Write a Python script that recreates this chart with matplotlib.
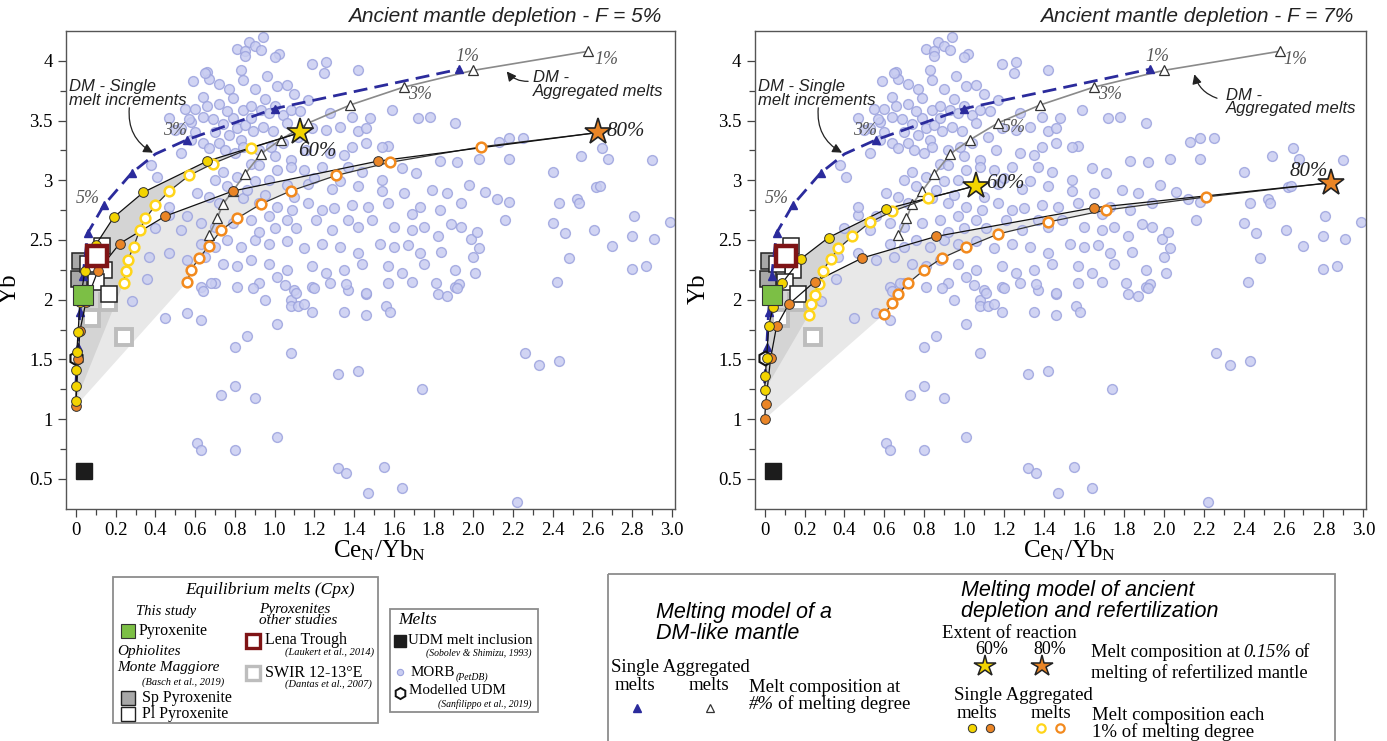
import matplotlib
matplotlib.use('Agg')
import matplotlib.pyplot as plt
import numpy as np
from matplotlib.patches import Rectangle

plt.rcParams['font.family'] = ['Liberation Serif', 'DejaVu Serif']
plt.rcParams['mathtext.fontset'] = 'custom'
plt.rcParams['mathtext.rm'] = 'Liberation Serif'
plt.rcParams['mathtext.it'] = 'Liberation Serif:italic'

# ---- MORB (PetDB) compilation, Ce_N/Yb_N vs Yb ----
morb_x = [0.94, 0.87, 0.81, 0.85, 0.90, 0.93, 1.02, 1.00, 0.85, 1.19,
          1.26, 1.42, 1.25, 0.59, 0.66, 0.67, 0.72, 0.77, 0.84, 0.90,
          0.96, 1.01, 1.06, 1.10, 1.17, 0.64, 0.72, 0.79, 0.84, 0.88,
          0.93, 0.97, 1.00, 1.04, 1.08, 1.13, 1.28, 1.39, 1.48, 1.59,
          1.72, 1.78, 1.91, 0.47, 0.53, 0.58, 0.64, 0.69, 0.74, 0.79,
          0.81, 0.85, 0.89, 0.94, 0.99, 1.06, 1.19, 1.26, 1.33, 1.42,
          1.46, 1.57, 0.53, 0.58, 0.64, 0.67, 0.72, 0.75, 0.80, 0.83,
          0.84, 0.92, 0.98, 1.04, 1.00, 1.08, 1.28, 1.35, 1.39, 1.46,
          1.54, 2.13, 2.18, 2.25, 2.54, 2.65, 2.68, 2.90, 2.40, 2.62,
          2.64, 1.71, 1.83, 1.92, 2.03, 2.18, 0.88, 0.92, 1.01, 1.08,
          1.15, 1.24, 1.37, 1.44, 1.54, 1.64, 0.74, 0.81, 0.90, 0.97,
          1.06, 1.17, 1.29, 1.33, 1.42, 1.54, 1.65, 1.79, 1.87, 1.98,
          2.06, 2.12, 2.18, 0.61, 0.67, 0.72, 0.84, 0.92, 1.01, 1.09,
          1.17, 1.24, 1.30, 1.39, 1.47, 1.57, 1.69, 1.73, 1.83, 1.94,
          2.43, 2.52, 2.53, 2.81, 2.99, 0.56, 0.63, 0.70, 0.79, 0.88,
          0.97, 1.06, 1.11, 1.21, 1.29, 1.37, 1.42, 1.49, 1.60, 1.69,
          1.75, 1.82, 1.89, 1.94, 1.99, 2.02, 2.16, 2.40, 2.46, 2.61,
          2.80, 2.91, 2.70, 2.48, 2.80, 2.87, 2.42, 0.63, 0.70, 0.76,
          0.83, 0.90, 0.97, 1.06, 1.15, 1.24, 1.33, 1.42, 1.53, 1.60,
          1.67, 1.73, 1.84, 2.00, 2.03, 0.47, 0.56, 0.65, 0.74, 0.81,
          0.88, 0.97, 1.06, 1.19, 1.26, 1.35, 1.44, 1.57, 1.64, 1.75,
          1.91, 2.01, 0.36, 0.63, 0.70, 0.81, 0.92, 1.01, 1.10, 1.19,
          1.28, 1.37, 1.46, 1.57, 1.69, 1.82, 1.91, 1.93, 0.28, 0.45,
          0.56, 0.64, 0.63, 0.68, 0.89, 0.95, 1.01, 1.05, 1.08, 1.08,
          1.11, 1.12, 1.15, 1.19, 1.20, 1.35, 1.36, 1.46, 1.46, 1.56,
          1.58, 1.81, 1.87, 1.92, 0.86, 0.80, 1.08, 1.32, 1.42, 2.26,
          2.33, 2.43, 0.80, 0.73, 0.90, 1.74, 0.61, 0.63, 0.80, 1.01,
          1.32, 1.36, 1.55, 1.47, 1.64, 2.22, 0.40, 0.47, 0.47, 0.53,
          0.37, 0.83, 0.55, 0.60, 0.70, 0.76, 0.86, 0.95, 1.00, 0.92,
          0.70, 0.77, 0.88, 0.95, 0.66, 0.76, 1.12, 1.16, 1.20, 1.10,
          0.65, 0.60, 0.57, 0.50, 0.38, 0.41]
morb_y = [4.20, 4.16, 4.10, 4.08, 4.12, 4.09, 4.06, 4.03, 4.04, 3.97,
          3.99, 3.92, 3.90, 3.83, 3.91, 3.85, 3.81, 3.76, 3.84, 3.76,
          3.87, 3.79, 3.80, 3.72, 3.67, 3.70, 3.64, 3.69, 3.59, 3.62,
          3.59, 3.56, 3.62, 3.55, 3.59, 3.58, 3.56, 3.53, 3.52, 3.59,
          3.52, 3.53, 3.48, 3.52, 3.44, 3.49, 3.53, 3.51, 3.47, 3.52,
          3.44, 3.46, 3.41, 3.45, 3.41, 3.48, 3.44, 3.42, 3.45, 3.41,
          3.44, 3.29, 3.23, 3.34, 3.31, 3.27, 3.31, 3.25, 3.23, 3.34,
          3.28, 3.25, 3.28, 3.31, 3.20, 3.17, 3.23, 3.21, 3.28, 3.31,
          3.28, 3.32, 3.35, 3.35, 3.20, 3.27, 3.18, 3.17, 3.07, 2.94,
          2.95, 3.06, 3.16, 3.15, 3.18, 3.18, 3.14, 3.13, 3.09, 3.11,
          3.09, 3.11, 3.11, 3.07, 3.00, 3.10, 3.07, 3.03, 2.99, 3.00,
          2.96, 2.97, 2.93, 2.99, 2.95, 2.91, 2.89, 2.92, 2.89, 2.96,
          2.90, 2.84, 2.82, 2.89, 2.86, 2.81, 2.85, 2.81, 2.78, 2.75,
          2.81, 2.75, 2.77, 2.79, 2.78, 2.81, 2.72, 2.78, 2.75, 2.81,
          2.81, 2.84, 2.81, 2.70, 2.65, 2.70, 2.64, 2.61, 2.64, 2.67,
          2.70, 2.67, 2.60, 2.67, 2.58, 2.67, 2.61, 2.67, 2.61, 2.58,
          2.61, 2.53, 2.63, 2.61, 2.51, 2.57, 2.67, 2.64, 2.56, 2.58,
          2.53, 2.51, 2.45, 2.35, 2.26, 2.28, 2.15, 2.47, 2.44, 2.50,
          2.44, 2.50, 2.47, 2.49, 2.43, 2.47, 2.44, 2.39, 2.47, 2.44,
          2.46, 2.39, 2.40, 2.36, 2.43, 2.39, 2.33, 2.36, 2.30, 2.28,
          2.33, 2.30, 2.25, 2.28, 2.22, 2.25, 2.30, 2.28, 2.22, 2.30,
          2.25, 2.22, 2.17, 2.11, 2.14, 2.11, 2.14, 2.19, 2.08, 2.11,
          2.14, 2.08, 2.05, 2.14, 2.15, 2.05, 2.11, 2.13, 1.99, 1.85,
          1.89, 2.07, 1.83, 2.14, 2.10, 2.00, 1.80, 2.12, 2.00, 1.95,
          2.06, 1.95, 1.96, 1.90, 2.10, 1.90, 2.13, 2.06, 1.87, 1.95,
          1.90, 2.14, 2.03, 2.10, 1.70, 1.60, 1.55, 1.38, 1.40, 1.55,
          1.45, 1.49, 1.28, 1.20, 1.18, 1.25, 0.80, 0.74, 0.74, 0.85,
          0.59, 0.55, 0.60, 0.38, 0.42, 0.31, 2.60, 2.71, 2.78, 2.58,
          2.36, 3.92, 3.60, 3.40, 3.00, 2.95, 2.92, 2.88, 2.60, 2.57,
          3.40, 3.38, 3.52, 3.68, 3.62, 3.58, 3.36, 3.25, 3.02, 2.86,
          3.90, 3.60, 3.51, 3.42, 3.13, 3.03]

# ---- DM-like mantle melting model (same in both panels) ----
dm_single_x = [0.0, 0.01, 0.02, 0.035, 0.06, 0.14, 0.28, 0.40, 0.56, 1.00, 1.93]
dm_single_y = [1.30, 1.60, 1.90, 2.20, 2.56, 2.79, 3.06, 3.22, 3.34, 3.60, 3.93]
dm_single_mark = [1, 2, 3, 4, 5, 6, 8, 9, 10]
dm_agg_x = [2.58, 2.00, 1.65, 1.38, 1.17, 1.03, 0.93, 0.85, 0.79, 0.74, 0.71, 0.67]
dm_agg_y = [4.08, 3.92, 3.78, 3.63, 3.48, 3.34, 3.22, 3.05, 2.91, 2.80, 2.68, 2.54]

# ---- equilibrium melts (Cpx) and melts ----
pyx_x, pyx_y = [0.036], [2.04]
lena_x, lena_y = [0.105], [2.37]
sp_x, sp_y = [0.02, 0.015], [2.32, 2.17]
pl_x = [0.13, 0.14, 0.10, 0.165, 0.06]
pl_y = [2.45, 2.25, 2.15, 2.05, 2.30]
swir_x, swir_y = [0.075, 0.16, 0.24], [1.85, 1.98, 1.69]
udm_x, udm_y = [0.04], [0.567]
mudm_x, mudm_y = [0.0], [1.51]

# ---- ancient depletion + refertilization, F = 5% ----
f5_y60s_x = [1.13, 0.66, 0.34, 0.19, 0.10, 0.045, 0.02, 0.011, 0.004, 0.002, 0.001, 0.0]
f5_y60s_y = [3.40, 3.16, 2.90, 2.69, 2.46, 2.24, 1.98, 1.73, 1.56, 1.41, 1.28, 1.15]
f5_y60a_x = [1.13, 0.88, 0.69, 0.57, 0.47, 0.40, 0.35, 0.32, 0.29, 0.26, 0.25, 0.24]
f5_y60a_y = [3.40, 3.27, 3.14, 3.04, 2.91, 2.79, 2.68, 2.58, 2.44, 2.33, 2.24, 2.14]
f5_o80s_x = [2.63, 1.52, 0.79, 0.45, 0.22, 0.11, 0.05, 0.02, 0.01, 0.0]
f5_o80s_y = [3.40, 3.16, 2.91, 2.70, 2.47, 2.24, 1.98, 1.74, 1.50, 1.11]
f5_o80a_x = [2.63, 2.04, 1.58, 1.31, 1.08, 0.93, 0.81, 0.73, 0.67, 0.62, 0.58, 0.56]
f5_o80a_y = [3.40, 3.28, 3.15, 3.04, 2.91, 2.80, 2.68, 2.58, 2.45, 2.35, 2.25, 2.15]

# ---- ancient depletion + refertilization, F = 7% ----
f7_y60s_x = [1.06, 0.61, 0.32, 0.18, 0.088, 0.043, 0.02, 0.01, 0.003, 0.0]
f7_y60s_y = [2.955, 2.76, 2.52, 2.34, 2.14, 1.94, 1.78, 1.51, 1.36, 1.24]
f7_y60a_x = [1.06, 0.82, 0.64, 0.53, 0.44, 0.37, 0.33, 0.29, 0.27, 0.25, 0.23, 0.22]
f7_y60a_y = [2.955, 2.85, 2.74, 2.65, 2.53, 2.43, 2.34, 2.24, 2.13, 2.04, 1.96, 1.87]
f7_o80s_x = [2.84, 1.65, 0.86, 0.49, 0.25, 0.12, 0.06, 0.03, 0.005, 0.0]
f7_o80s_y = [2.98, 2.77, 2.53, 2.35, 2.15, 1.96, 1.78, 1.51, 1.13, 1.00]
f7_o80a_x = [2.84, 2.21, 1.71, 1.42, 1.17, 1.01, 0.89, 0.80, 0.72, 0.67, 0.64, 0.60]
f7_o80a_y = [2.98, 2.86, 2.75, 2.65, 2.55, 2.44, 2.35, 2.25, 2.14, 2.05, 1.97, 1.88]

x_ticks = [0.0, 0.2, 0.4, 0.6, 0.8, 1.0, 1.2, 1.4, 1.6, 1.8, 2.0, 2.2, 2.4, 2.6, 2.8, 3.0]
x_tick_labels = ['0', '0.2', '0.4', '0.6', '0.8', '1.0', '1.2', '1.4', '1.6', '1.8',
                 '2.0', '2.2', '2.4', '2.6', '2.8', '3.0']
y_ticks = [0.5, 1.0, 1.5, 2.0, 2.5, 3.0, 3.5, 4.0]
y_tick_labels = ['0.5', '1', '1.5', '2', '2.5', '3', '3.5', '4']

BLUE = '#2b2b9c'
YEL = '#f3d400'
ORA = '#ea8526'
YEL_O = '#ffd51a'
ORA_O = '#f28a1e'
SANS = ['Liberation Sans', 'DejaVu Sans']


def draw_panel(ax, title, y60s, y60a, o80s, o80a, pct, stars_lab, agg_txt, agg_arr):
    # shaded fields between single and aggregated melts
    ax.fill(o80s[0] + o80a[0][::-1], o80s[1] + o80a[1][::-1], color='#e8e8e8', lw=0, zorder=1)
    ax.fill(y60s[0] + y60a[0][::-1], y60s[1] + y60a[1][::-1], color='#d4d4d4', lw=0, zorder=1.1)

    ax.scatter(morb_x, morb_y, s=50, facecolor='#c9cdf1', edgecolor='#9ca3de',
               linewidth=1.0, alpha=0.85, zorder=2)

    # equilibrium melts
    ax.plot(swir_x, swir_y, 's', ms=12, mfc='white', mec='#bdbdbd', mew=2.8, zorder=3)
    ax.plot(sp_x, sp_y, 's', ms=12, mfc='#a8a8a8', mec='#222', mew=1.1, zorder=3)
    ax.plot(pl_x, pl_y, 's', ms=12, mfc='white', mec='#222', mew=1.1, zorder=3)
    ax.plot(udm_x, udm_y, 's', ms=11, mfc='#1c1c1c', mec='#1c1c1c', zorder=3)

    # DM model
    ax.plot(dm_agg_x, dm_agg_y, '-', color='#8a8a8a', lw=1.2, zorder=4)
    ax.plot(dm_agg_x, dm_agg_y, '^', ms=7, mfc='white', mec='#333', mew=0.9, zorder=4.1)
    ax.plot(dm_single_x, dm_single_y, color=BLUE, lw=2, ls=(0, (5, 2.6)), zorder=4.2)
    ax.plot([dm_single_x[i] for i in dm_single_mark], [dm_single_y[i] for i in dm_single_mark],
            '^', ms=6, color=BLUE, zorder=4.3)

    # refertilization models
    for (sx, sy), (ax_, ay), fc, oc in [(o80s, o80a, ORA, ORA_O), (y60s, y60a, YEL, YEL_O)]:
        ax.plot(ax_, ay, '-', color='#333', lw=0.9, zorder=5)
        ax.plot(sx, sy, '-', color='#111', lw=0.9, zorder=5)
        ax.plot(ax_[1:], ay[1:], 'o', ms=7, mfc='white', mec=oc, mew=1.8, zorder=5.2)
        ax.plot(sx[1:], sy[1:], 'o', ms=7, mfc=fc, mec='#333', mew=0.7, zorder=5.3)

    ax.plot(mudm_x, mudm_y, 'h', ms=10, mfc='white', mec='#111', mew=1.5, zorder=5.1)
    ax.plot(pyx_x, pyx_y, 's', ms=14, mfc='#7cbf45', mec='#333', mew=0.8, zorder=6)
    ax.plot(lena_x, lena_y, 's', ms=14, mfc='white', mec='#7f1416', mew=3.2, zorder=6)

    ax.plot([y60s[0][0]], [y60s[1][0]], '*', ms=20, mfc=YEL, mec='#222', mew=1.2, zorder=7)
    ax.plot([o80s[0][0]], [o80s[1][0]], '*', ms=20, mfc=ORA, mec='#222', mew=1.2, zorder=7)

    for (tx, ty, t) in pct:
        ax.text(tx, ty, t, fontsize=13, style='italic', color='#555', ha='left', va='center', zorder=8)
    for (tx, ty, t) in stars_lab:
        ax.text(tx, ty, t, fontsize=15, style='italic', color='#222', ha='left', va='center', zorder=8)

    ax.text(-0.035, 3.725, 'DM - Single\nmelt increments', family=SANS, style='italic',
            fontsize=12, color='#222', ha='left', va='center', linespacing=0.9, zorder=8)
    ax.annotate('', xy=(0.40, 3.22), xytext=(0.27, 3.63),
                arrowprops=dict(arrowstyle='-|>', color='#222', lw=0.9, mutation_scale=14,
                                connectionstyle='arc3,rad=0.35'), zorder=8)
    ax.text(agg_txt[0], agg_txt[1], 'DM -\nAggregated melts', family=SANS, style='italic',
            fontsize=12, color='#222', ha='left', va='center', linespacing=0.9, zorder=8)
    ax.annotate('', xy=agg_arr[1], xytext=agg_arr[0],
                arrowprops=dict(arrowstyle='-|>', color='#222', lw=0.9, mutation_scale=14,
                                connectionstyle='arc3,rad=-0.3'), zorder=8)

    ax.set_xlim(-0.05, 3.015)
    ax.set_ylim(0.25, 4.25)
    ax.set_xticks(x_ticks)
    ax.set_xticklabels(x_tick_labels)
    ax.set_xticks(np.arange(0.1, 3.0, 0.2), minor=True)
    ax.set_yticks(y_ticks)
    ax.set_yticklabels(y_tick_labels)
    ax.set_yticks([0.75, 1.25, 1.75, 2.25, 2.75, 3.25, 3.75], minor=True)
    ax.tick_params(which='both', direction='out', labelsize=13.5, color='#444', width=0.9)
    ax.tick_params(which='major', length=6)
    ax.tick_params(which='minor', length=4)
    for sp in ax.spines.values():
        sp.set_color('#555')
        sp.set_linewidth(1.0)
    ax.set_xlabel(r'Ce$_{\mathrm{N}}$/Yb$_{\mathrm{N}}$', fontsize=18)
    ax.xaxis.set_label_coords(0.515, -0.062)
    ax.set_ylabel('Yb', fontsize=18)
    ax.yaxis.set_label_coords(-0.074, 0.46)
    ax.text(0.978, 1.03, title, transform=ax.transAxes, family=SANS, style='italic',
            fontsize=15, ha='right', va='center', color='#222')


fig = plt.figure(figsize=(13.87, 7.41), dpi=100)
ax1 = fig.add_axes([0.0476, 0.3135, 0.439, 0.6447])
ax2 = fig.add_axes([0.5441, 0.3135, 0.441, 0.6447])

draw_panel(ax1, 'Ancient mantle depletion - F = 5%',
           (f5_y60s_x, f5_y60s_y), (f5_y60a_x, f5_y60a_y),
           (f5_o80s_x, f5_o80s_y), (f5_o80a_x, f5_o80a_y),
           [(1.91, 4.04, '1%'), (2.61, 4.01, '1%'), (1.67, 3.72, '3%'),
            (0.44, 3.42, '3%'), (0.0, 2.85, '5%')],
           [(1.12, 3.24, '60%'), (2.67, 3.41, '80%')],
           (2.30, 3.80), ((2.29, 3.83), (2.16, 3.93)))
draw_panel(ax2, 'Ancient mantle depletion - F = 7%',
           (f7_y60s_x, f7_y60s_y), (f7_y60a_x, f7_y60a_y),
           (f7_o80s_x, f7_o80s_y), (f7_o80a_x, f7_o80a_y),
           [(1.91, 4.04, '1%'), (2.60, 4.01, '1%'), (1.67, 3.72, '3%'),
            (1.19, 3.44, '5%'), (0.445, 3.42, '3%'), (0.0, 2.85, '5%')],
           [(1.11, 2.97, '60%'), (2.63, 3.07, '80%')],
           (2.31, 3.655), ((2.28, 3.68), (2.15, 3.91)))

# ---- legends (drawn in pixel coordinates) ----
lg = fig.add_axes([0, 0, 1, 1])
lg.set_xlim(0, 1387)
lg.set_ylim(741, 0)
lg.axis('off')
renderer = fig.canvas.get_renderer()


def chain_text(x, y, parts, fs, gap=3.5):
    # write pieces of one line one after another (mixed upright / italic)
    for txt, st, size in parts:
        t = lg.text(x, y, txt, style=st, fontsize=size or fs, va='baseline', ha='left')
        x = t.get_window_extent(renderer).x1 + gap
    return x


lg.add_patch(Rectangle((113, 577), 265, 146, fill=False, ec='#8c8c8c', lw=1.3))
lg.text(270, 590, 'Equilibrium melts (Cpx)', style='italic', fontsize=12.5, ha='center', va='center')
lg.text(136, 611, 'This study', style='italic', fontsize=10.5, va='center')
lg.plot(128, 631, 's', ms=10, mfc='#7cbf45', mec='#333', mew=0.8)
lg.text(139, 631, 'Pyroxenite', fontsize=11.5, va='center')
lg.text(117, 652, 'Ophiolites', style='italic', fontsize=11, va='center')
lg.text(117, 667, 'Monte Maggiore', style='italic', fontsize=11, va='center')
lg.text(142, 682, '(Basch et al., 2019)', style='italic', fontsize=7.5, va='center')
lg.plot(128, 698, 's', ms=10, mfc='#a8a8a8', mec='#222', mew=1.0)
lg.text(142, 698, 'Sp Pyroxenite', fontsize=11.5, va='center')
lg.plot(128, 714, 's', ms=10, mfc='white', mec='#222', mew=1.0)
lg.text(142, 714, 'Pl Pyroxenite', fontsize=11.5, va='center')
lg.text(259, 609, 'Pyroxenites', style='italic', fontsize=11, va='center')
lg.text(259, 621, 'other studies', style='italic', fontsize=11, va='center')
lg.plot(253, 641, 's', ms=10, mfc='white', mec='#7f1416', mew=2.4)
lg.text(265, 640, 'Lena Trough', fontsize=11.5, va='center')
lg.text(374, 652, '(Laukert et al., 2014)', style='italic', fontsize=7.5, ha='right', va='center')
lg.plot(253, 673, 's', ms=10, mfc='white', mec='#bdbdbd', mew=2.4)
lg.text(265, 673, 'SWIR 12-13°E', fontsize=11.5, va='center')
lg.text(372, 684, '(Dantas et al., 2007)', style='italic', fontsize=7.5, ha='right', va='center')

lg.add_patch(Rectangle((390, 609), 148, 103, fill=False, ec='#8c8c8c', lw=1.3))
lg.text(398, 620, 'Melts', style='italic', fontsize=12.5, va='center')
lg.plot(400, 641, 's', ms=9, mfc='#1c1c1c', mec='#1c1c1c')
lg.text(408, 641, 'UDM melt inclusion', fontsize=10.8, va='center')
lg.text(531, 653, '(Sobolev & Shimizu, 1993)', style='italic', fontsize=7, ha='right', va='center')
lg.plot(400, 672, 'o', ms=4.5, mfc='#c9cdf1', mec='#9ca3de', mew=0.8)
x_sub = chain_text(411, 676, [('MORB', 'normal', None)], 10.8, gap=0.5)
lg.text(x_sub, 680, '(PetDB)', style='italic', fontsize=7, va='baseline')
lg.plot(400, 693, 'h', ms=8, mfc='white', mec='#111', mew=1.4)
lg.text(409, 691, 'Modelled UDM', fontsize=10.8, va='center')
lg.text(531, 704, '(Sanfilippo et al., 2019)', style='italic', fontsize=7, ha='right', va='center')

lg.add_patch(Rectangle((608, 574), 727, 190, fill=False, ec='#8c8c8c', lw=1.3))
lg.text(656, 623, 'Melting model of a\nDM-like mantle', family=SANS, style='italic',
        fontsize=15.5, va='center', linespacing=1.0)
lg.text(611, 667, 'Single Aggregated', fontsize=13.5, va='center')
lg.text(615, 686, 'melts', fontsize=13.5, va='center')
lg.text(689, 686, 'melts', fontsize=13.5, va='center')
lg.plot(637, 708, '^', ms=5.5, color=BLUE)
lg.plot(710, 708, '^', ms=6, mfc='white', mec='#333', mew=0.9)
lg.text(749, 688, 'Melt composition at', fontsize=13.5, va='center')
chain_text(749, 709, [('#%', 'italic', None), ('of melting degree', 'normal', None)], 13.5)

lg.text(961, 601, 'Melting model of ancient\ndepletion and refertilization', family=SANS,
        style='italic', fontsize=15.5, va='center', linespacing=1.0)
lg.text(942, 634, 'Extent of reaction', fontsize=13.5, va='center')
lg.text(992, 650, '60%', fontsize=13, ha='center', va='center')
lg.text(1050, 650, '80%', fontsize=13, ha='center', va='center')
lg.plot(985, 666, '*', ms=16, mfc=YEL, mec='#222', mew=1.1)
lg.plot(1042, 666, '*', ms=16, mfc=ORA, mec='#222', mew=1.1)
chain_text(1091, 657, [('Melt composition at', 'normal', None), ('0.15%', 'italic', None),
                       ('of', 'normal', None)], 13.2)
lg.text(1091, 673, 'melting of refertilized mantle', fontsize=13.2, va='center')
lg.text(954, 695, 'Single Aggregated', fontsize=13.5, va='center')
lg.text(957, 713, 'melts', fontsize=13.5, va='center')
lg.text(1031, 713, 'melts', fontsize=13.5, va='center')
lg.plot(972, 728, 'o', ms=6, mfc=YEL, mec='#333', mew=0.7)
lg.plot(990, 728, 'o', ms=6, mfc=ORA, mec='#333', mew=0.7)
lg.plot(1041, 728, 'o', ms=6, mfc='white', mec=YEL_O, mew=1.6)
lg.plot(1060, 728, 'o', ms=6, mfc='white', mec=ORA_O, mew=1.6)
lg.text(1092, 715, 'Melt composition each', fontsize=13.5, va='center')
lg.text(1092, 732, '1% of melting degree', fontsize=13.5, va='center')

fig.savefig('out.png', dpi=100, facecolor='white')
